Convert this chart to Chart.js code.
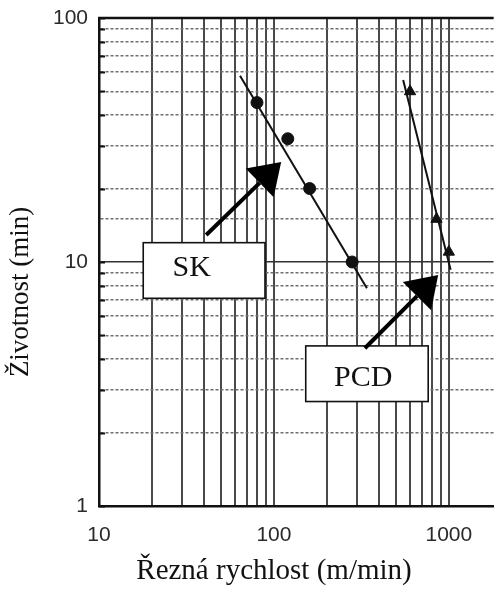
<!DOCTYPE html>
<html><head><meta charset="utf-8">
<script src="https://cdn.jsdelivr.net/npm/chart.js@4/dist/chart.umd.min.js"></script>
<style>html,body{margin:0;padding:0;background:#fff;overflow:hidden}
#wrap{width:494px;height:590px;position:relative;overflow:hidden}</style></head>
<body><div id="wrap"><canvas id="c" width="501" height="590"></canvas></div>
<script>
// ---- data ----
const xTickLabels = [10, 100, 1000];
const yTickLabels = [1, 10, 100];
const skSpeed = [80, 120, 160, 280];
const skLife = [45, 32, 20, 10];
const skFitSpeed = [64, 340];
const skFitLife = [58, 7.8];
const pcdSpeed = [600, 850, 1000];
const pcdLife = [50, 15, 11];
const pcdFitSpeed = [548, 1023];
const pcdFitLife = [55.7, 9.3];
const labelNames = ['SK', 'PCD'];
// annotation anchors (data coordinates)
const arrowTail = [[41, 12.9], [331, 4.43]];
const arrowTip = [[110, 25.7], [869, 8.85]];
const boxCornerA = [[17.9, 12.0], [152, 4.53]];
const boxCornerB = [[88.9, 7.1], [762, 2.68]];
const labelPos = [[33.9, 9.45], [324, 3.34]];
const xTitle = 'Řezná rychlost (m/min)';
const yTitle = 'Životnost (min)';

const pts = (xs, ys) => xs.map((x, i) => ({x, y: ys[i]}));
const isPow10 = v => Math.abs(Math.log10(v) - Math.round(Math.log10(v))) < 1e-6;
const isStd = v => { const e = Math.pow(10, Math.floor(Math.log10(v) + 1e-9)); const s = v / e; return Math.abs(s - Math.round(s)) < 1e-6; };
const tickFont = {family: "'Liberation Sans', Arial, sans-serif", size: 21};

const decorPlugin = {
  id: 'decor',
  afterDatasetsDraw(chart) {
    const {ctx, chartArea: a, scales: {x, y}} = chart;
    ctx.save();
    // top border
    ctx.strokeStyle = '#111'; ctx.lineWidth = 2.5;
    ctx.beginPath(); ctx.moveTo(a.left - 1, a.top); ctx.lineTo(a.right, a.top); ctx.stroke();
    // inner ticks on left axis
    ctx.lineWidth = 2;
    y.ticks.forEach(t => {
      if (!isStd(t.value)) return;
      const py = Math.round(y.getPixelForValue(t.value)) + 0.5;
      ctx.beginPath(); ctx.moveTo(a.left, py); ctx.lineTo(a.left + 6, py); ctx.stroke();
    });
    // annotations
    for (let i = 0; i < labelNames.length; i++) {
      const x1 = x.getPixelForValue(boxCornerA[i][0]), y1 = y.getPixelForValue(boxCornerA[i][1]);
      const x2 = x.getPixelForValue(boxCornerB[i][0]), y2 = y.getPixelForValue(boxCornerB[i][1]);
      ctx.fillStyle = '#fff'; ctx.strokeStyle = '#111'; ctx.lineWidth = 1.6;
      ctx.fillRect(x1, y1, x2 - x1, y2 - y1);
      ctx.strokeRect(x1, y1, x2 - x1, y2 - y1);
      ctx.fillStyle = '#111';
      ctx.font = "30px 'Liberation Serif', 'Times New Roman', serif";
      ctx.textAlign = 'center'; ctx.textBaseline = 'middle';
      ctx.fillText(labelNames[i], x.getPixelForValue(labelPos[i][0]), y.getPixelForValue(labelPos[i][1]));
      // arrow
      const tx = x.getPixelForValue(arrowTail[i][0]), ty = y.getPixelForValue(arrowTail[i][1]);
      const hx = x.getPixelForValue(arrowTip[i][0]), hy = y.getPixelForValue(arrowTip[i][1]);
      const ang = Math.atan2(hy - ty, hx - tx);
      const L = 30, W = 20;
      const bx = hx - L * Math.cos(ang), by = hy - L * Math.sin(ang);
      ctx.strokeStyle = '#000'; ctx.lineWidth = 4;
      ctx.beginPath(); ctx.moveTo(tx, ty); ctx.lineTo(bx, by); ctx.stroke();
      ctx.fillStyle = '#000';
      ctx.beginPath();
      ctx.moveTo(hx, hy);
      ctx.lineTo(bx + W * Math.sin(ang), by - W * Math.cos(ang));
      ctx.lineTo(bx - W * Math.sin(ang), by + W * Math.cos(ang));
      ctx.closePath(); ctx.fill();
    }
    // titles
    ctx.fillStyle = '#111';
    ctx.textAlign = 'center'; ctx.textBaseline = 'middle';
    ctx.font = "29px 'Liberation Serif', 'Times New Roman', serif";
    ctx.fillText(xTitle, 274, 571);
    ctx.font = "27px 'Liberation Serif', 'Times New Roman', serif";
    ctx.translate(21, 292); ctx.rotate(-Math.PI / 2);
    ctx.fillText(yTitle, 0, 0);
    ctx.restore();
  }
};

new Chart(document.getElementById('c'), {
  type: 'scatter',
  data: {
    datasets: [
      {data: pts(skFitSpeed, skFitLife), showLine: true, borderColor: '#111', borderWidth: 2, pointRadius: 0},
      {data: pts(skSpeed, skLife), showLine: false, pointStyle: 'circle', pointRadius: 6, backgroundColor: '#111', borderColor: '#111'},
      {data: pts(pcdFitSpeed, pcdFitLife), showLine: true, borderColor: '#111', borderWidth: 2, pointRadius: 0},
      {data: pts(pcdSpeed, pcdLife), showLine: false, pointStyle: 'triangle', pointRadius: 6.5, backgroundColor: '#111', borderColor: '#111'}
    ]
  },
  options: {
    responsive: false, animation: false, devicePixelRatio: 1,
    layout: {padding: {top: 18, right: 0, left: 0, bottom: 0}},
    plugins: {legend: {display: false}, tooltip: {enabled: false}},
    scales: {
      x: {
        type: 'logarithmic', min: 10, max: 1800, position: 'bottom',
        afterFit: s => { s.height = 84; s.paddingLeft = 0; s.paddingRight = 0; },
        grid: {color: c => (c.tick && isStd(c.tick.value)) ? '#4a4a4a' : 'rgba(0,0,0,0)', lineWidth: 2, drawTicks: false},
        border: {display: true, color: '#111', width: 2.5},
        ticks: {autoSkip: false, maxRotation: 0, padding: 17, color: '#2a2a2a', font: tickFont,
          callback: v => xTickLabels.some(t => Math.abs(t - v) < 1e-6) ? String(v) : ''}
      },
      y: {
        type: 'logarithmic', min: 1, max: 100,
        afterFit: s => { s.width = 99; s.paddingTop = 0; s.paddingBottom = 0; },
        grid: {color: c => (c.tick && isPow10(c.tick.value)) ? '#333' : '#6e6e6e', lineWidth: 1.5, drawTicks: false},
        border: {display: true, color: '#111', width: 2.5, dash: c => (c.tick && isPow10(c.tick.value)) ? [] : [3, 2]},
        ticks: {autoSkip: false, padding: 11, color: '#2a2a2a', font: tickFont,
          callback: v => yTickLabels.some(t => Math.abs(t - v) < 1e-6) ? String(v) : ''}
      }
    }
  },
  plugins: [decorPlugin]
});
</script></body></html>
